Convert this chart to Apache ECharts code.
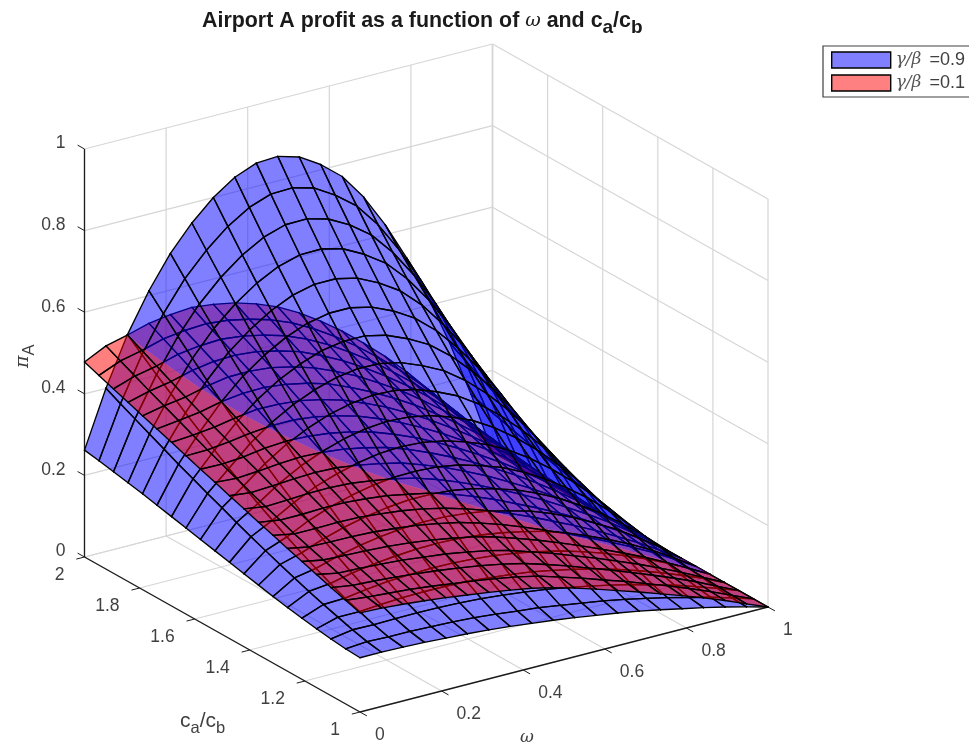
<!DOCTYPE html>
<html><head><meta charset="utf-8">
<style>html,body{margin:0;padding:0;background:#fff}#c{width:969px;height:745px;filter:blur(0.6px)}</style>
<script src="https://cdn.jsdelivr.net/npm/echarts@6/dist/echarts.min.js"></script>
</head><body><div id="c"></div>
<script>
const omegaGrid=[0,.0526,.1053,.1579,.2105,.2632,.3158,.3684,.4211,.4737,.5263,.5789,.6316,.6842,.7368,.7895,.8421,.8947,.9474,1];
const ratioGrid=[2,1.9474,1.8947,1.8421,1.7895,1.7368,1.6842,1.6316,1.5789,1.5263,1.4737,1.4211,1.3684,1.3158,1.2632,1.2105,1.1579,1.1053,1.0526,1];
const blueValues=[
[.262,.400,.518,.612,.690,.751,.800,.836,.857,.860,.845,.813,.770,.706,.625,.530,.420,.295,.155,0],
[.256,.382,.489,.576,.648,.704,.749,.782,.801,.803,.789,.758,.718,.658,.582,.494,.391,.275,.144,0],
[.249,.365,.460,.540,.606,.658,.699,.729,.746,.747,.733,.705,.667,.611,.541,.458,.363,.255,.134,0],
[.242,.348,.433,.506,.566,.613,.650,.677,.692,.693,.680,.653,.618,.566,.501,.424,.336,.236,.124,0],
[.235,.331,.406,.472,.527,.569,.603,.627,.640,.640,.628,.603,.570,.522,.461,.391,.309,.217,.114,0],
[.227,.314,.380,.440,.489,.527,.557,.578,.589,.589,.577,.554,.523,.479,.423,.358,.284,.199,.105,0],
[.219,.298,.355,.408,.452,.486,.512,.531,.540,.540,.528,.506,.478,.437,.386,.327,.259,.182,.095,0],
[.211,.282,.330,.378,.416,.446,.469,.485,.493,.492,.481,.460,.434,.397,.351,.297,.235,.165,.086,0],
[.203,.267,.307,.348,.382,.408,.428,.441,.448,.446,.435,.416,.392,.358,.316,.267,.211,.148,.078,0],
[.195,.251,.284,.320,.349,.371,.388,.399,.404,.401,.391,.374,.352,.321,.283,.239,.189,.133,.070,0],
[.187,.236,.263,.293,.318,.336,.350,.359,.362,.359,.349,.333,.313,.286,.252,.212,.168,.118,.062,0],
[.179,.222,.242,.268,.288,.303,.314,.321,.322,.319,.310,.295,.277,.252,.222,.187,.148,.103,.054,0],
[.171,.208,.223,.243,.259,.271,.280,.285,.285,.281,.272,.258,.242,.220,.194,.163,.129,.090,.047,0],
[.163,.195,.205,.221,.233,.242,.248,.251,.250,.245,.237,.224,.210,.190,.167,.140,.111,.077,.041,0],
[.156,.182,.188,.200,.208,.214,.218,.219,.217,.212,.204,.193,.180,.163,.142,.119,.094,.066,.034,0],
[.150,.170,.172,.180,.186,.189,.191,.190,.187,.182,.174,.164,.152,.137,.120,.100,.079,.055,.029,0],
[.144,.159,.159,.163,.166,.167,.167,.165,.160,.155,.148,.138,.127,.115,.100,.083,.065,.045,.024,0],
[.139,.148,.147,.148,.149,.148,.146,.143,.138,.132,.125,.116,.106,.095,.083,.068,.054,.037,.019,0],
[.135,.139,.137,.137,.135,.133,.130,.125,.119,.114,.106,.098,.090,.080,.069,.057,.044,.031,.016,0],
[.133,.133,.132,.130,.127,.124,.120,.115,.109,.103,.096,.088,.080,.071,.061,.050,.039,.027,.014,0]];
const redValues=[
[.478,.504,.517,.532,.540,.544,.538,.528,.512,.491,.463,.429,.391,.348,.302,.251,.195,.136,.072,0],
[.465,.487,.499,.514,.521,.524,.519,.508,.493,.472,.444,.411,.374,.333,.289,.240,.186,.130,.069,0],
[.452,.470,.481,.496,.503,.506,.500,.489,.474,.452,.425,.393,.358,.318,.276,.229,.178,.124,.065,0],
[.439,.453,.463,.477,.485,.487,.482,.470,.455,.432,.406,.375,.341,.304,.263,.218,.169,.118,.062,0],
[.426,.437,.445,.458,.467,.468,.463,.451,.435,.413,.388,.358,.326,.289,.250,.208,.161,.112,.059,0],
[.414,.421,.428,.440,.447,.448,.442,.431,.416,.394,.369,.341,.310,.275,.238,.197,.153,.106,.056,0],
[.401,.405,.411,.421,.428,.427,.422,.411,.396,.375,.352,.324,.294,.261,.226,.187,.145,.101,.053,0],
[.388,.389,.395,.403,.408,.408,.402,.391,.377,.357,.334,.308,.279,.247,.214,.177,.137,.095,.050,0],
[.375,.374,.378,.386,.390,.388,.382,.372,.358,.339,.317,.292,.264,.234,.202,.167,.130,.090,.047,0],
[.363,.359,.363,.368,.371,.369,.363,.353,.340,.322,.300,.276,.250,.221,.191,.158,.122,.085,.044,0],
[.350,.344,.347,.351,.353,.351,.344,.334,.322,.304,.284,.261,.236,.208,.179,.148,.115,.080,.041,0],
[.338,.330,.332,.335,.336,.333,.326,.317,.305,.288,.268,.246,.222,.196,.169,.139,.108,.075,.038,0],
[.325,.317,.317,.319,.319,.315,.309,.299,.288,.272,.253,.232,.208,.184,.158,.131,.101,.070,.036,0],
[.313,.303,.303,.304,.303,.298,.292,.283,.271,.256,.238,.218,.196,.172,.148,.122,.094,.065,.033,0],
[.301,.291,.290,.289,.287,.282,.276,.267,.256,.241,.224,.204,.183,.161,.138,.114,.088,.061,.031,0],
[.289,.279,.277,.275,.272,.267,.260,.251,.241,.227,.210,.192,.172,.151,.129,.106,.082,.056,.028,0],
[.277,.267,.265,.262,.258,.252,.246,.237,.227,.214,.197,.180,.160,.141,.120,.099,.076,.052,.026,0],
[.265,.257,.254,.250,.245,.239,.232,.224,.214,.202,.186,.169,.150,.132,.112,.092,.071,.049,.024,0],
[.254,.248,.244,.240,.234,.227,.220,.212,.203,.191,.175,.159,.141,.124,.105,.086,.066,.045,.022,0],
[.243,.241,.237,.232,.226,.219,.212,.204,.195,.183,.168,.152,.135,.118,.100,.082,.063,.043,.021,0]];
const omegaTicks=[0,.2,.4,.6,.8,1];
const omegaLabels=['0','0.2','0.4','0.6','0.8','1'];
const ratioTicks=[1,1.2,1.4,1.6,1.8,2];
const ratioLabels=['1','1.2','1.4','1.6','1.8','2'];
const zTicks=[0,.2,.4,.6,.8,1];
const zLabels=['0','0.2','0.4','0.6','0.8','1'];
const titleText='{b|Airport A profit as a function of }{w|ω}{b| and c}{s|a}{b|/c}{s|b}';
const seriesNames=['γ/β = 0.9','γ/β = 0.1'];

// affine view of the 3-D box
const ORIGIN=[360,712],WV=[408,-105],UV=[-275.5,-155],ZH=408;
function project(w,r,z){const u=r-1;return [ORIGIN[0]+WV[0]*w+UV[0]*u,ORIGIN[1]+WV[1]*w+UV[1]*u-ZH*z];}
function depth(w,r,z){return .675*w+(r-1)-.5537*z;}

// split every grid cell on the line where the two surfaces cross
function clipCell(cs,sign){
  const out=[];
  for(let i=0;i<4;i++){
    const a=cs[i],b=cs[(i+1)%4],ia=sign*a.d>0,ib=sign*b.d>0;
    let x=null;
    if(ia!==ib){const t=a.d/(a.d-b.d);x={w:a.w+(b.w-a.w)*t,r:a.r+(b.r-a.r)*t,z:a.z+(b.z-a.z)*t,d:0};}
    if(ia&&ib)out.push({p:a,edge:true});
    else if(ia&&!ib){out.push({p:a,edge:true});out.push({p:x,edge:false});}
    else if(!ia&&ib){out.push({p:x,edge:true});}
  }
  return out;
}
function buildPieces(values,other,isRed){
  const res=[];
  for(let j=0;j<ratioGrid.length-1;j++)for(let k=0;k<omegaGrid.length-1;k++){
    const idx=[[j,k],[j,k+1],[j+1,k+1],[j+1,k]];
    const cs=idx.map(([a,b])=>({w:omegaGrid[b],r:ratioGrid[a],z:values[a][b],
      d:(isRed?values[a][b]-other[a][b]:other[a][b]-values[a][b])+1e-5}));
    [1,-1].forEach(sign=>{
      const poly=clipCell(cs,sign);
      if(poly.length<3)return;
      let D=0;poly.forEach(v=>{D+=depth(v.p.w,v.p.r,v.p.z);});
      res.push({poly,D:D/poly.length});
    });
  }
  return res;
}
const bluePieces=buildPieces(blueValues,redValues,false);
const redPieces=buildPieces(redValues,blueValues,true);
[...bluePieces,...redPieces].sort((a,b)=>b.D-a.D).forEach((p,i)=>{p.rank=i*2+10;});

function surfaceRender(pieces,fill){
  return function(params,api){
    const pc=pieces[api.value(0)];
    const pts=pc.poly.map(v=>api.coord(project(v.p.w,v.p.r,v.p.z)));
    const children=[{type:'polygon',z2:pc.rank,shape:{points:pts},style:{fill:fill,stroke:null},silent:true}];
    pc.poly.forEach((v,i)=>{
      if(!v.edge)return;
      const q=pts[(i+1)%pts.length];
      children.push({type:'line',z2:pc.rank+1,shape:{x1:pts[i][0],y1:pts[i][1],x2:q[0],y2:q[1]},
        style:{stroke:'#000',lineWidth:1.35,lineCap:'round',fill:null},silent:true});
    });
    return {type:'group',children};
  };
}

// box: grid lines, axis lines, tick marks, tick labels
const GRID='#d6d6d6',AX='#1c1c1c';
const boxLines=[];
function seg(a,b,color,w){boxLines.push({a,b,color,w});}
omegaTicks.forEach((t,i)=>{
  const edge=i===omegaTicks.length-1;
  seg([t,2,0],[t,2,1],GRID,edge?1.7:1.2);
  seg([t,1,0],[t,2,0],GRID,1.2);
});
ratioTicks.forEach(t=>{
  seg([1,t,0],[1,t,1],GRID,1.2);
  seg([0,t,0],[1,t,0],GRID,1.2);
});
zTicks.forEach(t=>{
  seg([0,2,t],[1,2,t],GRID,1.2);
  seg([1,2,t],[1,1,t],GRID,1.2);
});
seg([0,2,0],[0,2,1],AX,1.3);seg([0,1,0],[0,2,0],AX,1.3);seg([0,1,0],[1,1,0],AX,1.3);
zTicks.forEach(t=>seg([0,2,t],[0,2.025,t],AX,1));
ratioTicks.forEach(t=>seg([0,t,0],[-.02,t,0],AX,1));
omegaTicks.forEach(t=>seg([t,1,0],[t,.975,0],AX,1));

const tickText=[];
zTicks.forEach((t,i)=>{const p=project(0,2,t);tickText.push({x:p[0]-19,y:p[1]-5.5,s:zLabels[i],align:'right'});});
ratioTicks.forEach((t,i)=>{const p=project(0,t,0);tickText.push({x:p[0]-20,y:p[1]+18,s:ratioLabels[i],align:'right'});});
omegaTicks.forEach((t,i)=>{const p=project(t,1,0);tickText.push({x:p[0]+15,y:p[1]+23,s:omegaLabels[i],align:'left'});});

const chart=echarts.init(document.getElementById('c'),null,{renderer:'canvas'});
chart.setOption({
  animation:false,
  backgroundColor:'#fff',
  title:{text:titleText,left:202,top:6,padding:0,
    textStyle:{rich:{
      b:{fontFamily:'Liberation Sans',fontSize:21.4,fontWeight:'bold',color:'#1a1a1a'},
      w:{fontFamily:'DejaVu Serif',fontSize:19,fontStyle:'italic',fontWeight:'normal',color:'#1a1a1a'},
      s:{fontFamily:'Liberation Sans',fontSize:19,fontWeight:'bold',color:'#1a1a1a',padding:[12,0,0,0]}
    }}},
  legend:{left:823,top:46,orient:'vertical',padding:[5,30,5,8],itemGap:5,itemWidth:59,itemHeight:16,
    borderColor:'#404040',borderWidth:1.2,backgroundColor:'#fff',selectedMode:false,
    data:[{name:seriesNames[0],icon:'rect',itemStyle:{color:'#8080ff',borderColor:'#000',borderWidth:1.4}},
          {name:seriesNames[1],icon:'rect',itemStyle:{color:'#ff8080',borderColor:'#000',borderWidth:1.4}}],
    formatter:n=>'{g|'+n.split(' = ')[0]+'}{v| ='+n.split(' = ')[1]+'}',
    textStyle:{rich:{g:{fontFamily:'DejaVu Serif',fontStyle:'italic',fontSize:17,color:'#555',padding:[0,3,0,0]},
      v:{fontFamily:'Liberation Sans',fontSize:18,color:'#404040'}}}},
  grid:{left:0,right:0,top:0,bottom:0},
  xAxis:{type:'value',min:0,max:969,show:false},
  yAxis:{type:'value',min:0,max:745,inverse:true,show:false},
  series:[
    {type:'custom',name:'box',coordinateSystem:'cartesian2d',silent:true,clip:false,z:1,progressive:0,
     data:boxLines.map((_,i)=>[i]),
     renderItem(params,api){
       const s=boxLines[api.value(0)];
       const a=api.coord(project(...s.a)),b=api.coord(project(...s.b));
       return {type:'line',shape:{x1:a[0],y1:a[1],x2:b[0],y2:b[1]},style:{stroke:s.color,lineWidth:s.w,fill:null}};
     }},
    {type:'custom',name:'labels',coordinateSystem:'cartesian2d',silent:true,clip:false,z:1,progressive:0,
     data:tickText.map((_,i)=>[i]),
     renderItem(params,api){
       const t=tickText[api.value(0)],p=api.coord([t.x,t.y]);
       return {type:'text',x:p[0],y:p[1],style:{text:t.s,fontFamily:'Liberation Sans',fontSize:17.5,fill:'#404040',align:t.align,verticalAlign:'middle'}};
     }},
    {type:'custom',name:seriesNames[0],coordinateSystem:'cartesian2d',silent:true,clip:false,z:3,progressive:0,
     itemStyle:{color:'#8080ff'},data:bluePieces.map((_,i)=>[i]),renderItem:surfaceRender(bluePieces,'rgba(0,0,255,0.5)')},
    {type:'custom',name:seriesNames[1],coordinateSystem:'cartesian2d',silent:true,clip:false,z:3,progressive:0,
     itemStyle:{color:'#ff8080'},data:redPieces.map((_,i)=>[i]),renderItem:surfaceRender(redPieces,'rgba(255,0,0,0.5)')}
  ],
  graphic:[
    {type:'text',left:180,top:711,style:{rich:{a:{fontFamily:'Liberation Sans',fontSize:21,fill:'#404040'},s:{fontFamily:'Liberation Sans',fontSize:16.5,fill:'#404040',padding:[13,0,0,0]}},text:'{a|c}{s|a}{a|/c}{s|b}'}},
    {type:'text',left:520,top:729,style:{text:'ω',fontFamily:'DejaVu Serif',fontStyle:'italic',fontSize:17,fill:'#404040'}},
    {type:'text',x:9,y:368,rotation:Math.PI/2,style:{rich:{a:{fontFamily:'DejaVu Serif',fontStyle:'italic',fontSize:19,fill:'#404040'},s:{fontFamily:'Liberation Sans',fontSize:16.5,fill:'#404040',padding:[12,0,0,0]}},text:'{a|π}{s|A}'}}
  ]
});
</script></body></html>
